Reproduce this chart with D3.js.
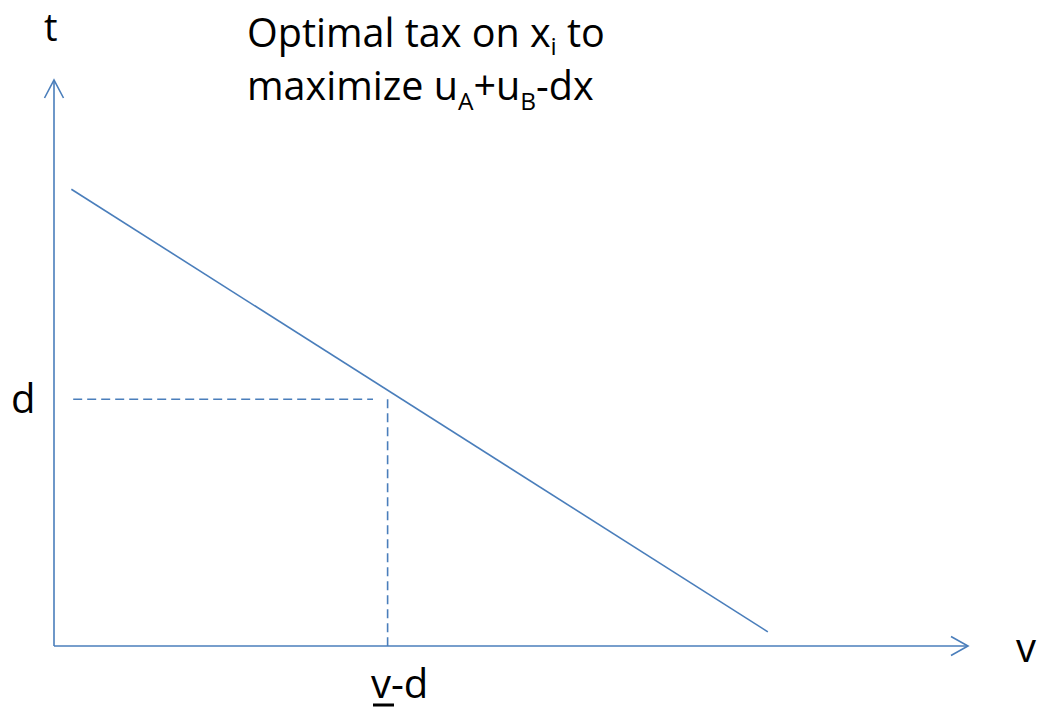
<!DOCTYPE html>
<html>
<head>
<meta charset="utf-8">
<script src="https://cdn.jsdelivr.net/npm/d3@7"></script>
<style>
  html, body { margin: 0; padding: 0; background: #fff; }
  svg { display: block; }
  text { font-family: "Open Sans", "Liberation Sans", sans-serif; fill: #000; }
</style>
</head>
<body>
<svg id="chart" width="1041" height="711"></svg>
<script>
// Tax schedule t(v): straight line in (v, t) units
const linePoints = [
  { v: 1.9, t: 80.7 },
  { v: 78.1, t: 2.5 }
];
// Reference level t = d and the matching valuation v-d
const dLevel = 43.6;
const dGuideFrom = [2.1, 34.9];   // horizontal guide span along v
const vdValue = 36.5;             // vertical guide position
const axisLabels = ["t", "v"];
const tickLabels = ["d", "v-d"];
const titleLines = ["Optimal tax on x", "maximize u"];

const blue = "#4a7ebb";
const svg = d3.select("#chart");

const x = d3.scaleLinear().domain([0, 100]).range([54, 968]);
const y = d3.scaleLinear().domain([0, 100]).range([646, 80]);

// Axes with open arrowheads
const ax = svg.append("g").attr("stroke", blue).attr("stroke-width", 1.6).attr("fill", "none");
ax.append("line").attr("x1", x(0)).attr("y1", y(0)).attr("x2", x(0)).attr("y2", y(100));
ax.append("line").attr("x1", x(0)).attr("y1", y(0)).attr("x2", x(100)).attr("y2", y(0));
ax.append("path").attr("d", `M${x(0) - 9.5},${y(100) + 18} L${x(0)},${y(100)} L${x(0) + 9.5},${y(100) + 18}`);
ax.append("path").attr("d", `M${x(100) - 17},${y(0) - 9.5} L${x(100)},${y(0)} L${x(100) - 17},${y(0) + 9.5}`);

// Dashed guides
const guides = svg.append("g").attr("stroke", blue).attr("stroke-width", 1.6)
  .attr("stroke-dasharray", "9,5").attr("fill", "none");
guides.append("line")
  .attr("x1", x(dGuideFrom[0])).attr("y1", y(dLevel))
  .attr("x2", x(dGuideFrom[1])).attr("y2", y(dLevel));
guides.append("line")
  .attr("x1", x(vdValue)).attr("y1", y(dLevel))
  .attr("x2", x(vdValue)).attr("y2", y(0));

// Tax line
svg.append("path")
  .datum(linePoints)
  .attr("fill", "none")
  .attr("stroke", blue)
  .attr("stroke-width", 1.6)
  .attr("d", d3.line().x(d => x(d.v)).y(d => y(d.t)));

// Axis labels
const lfs = 40;
svg.append("text").attr("x", 44).attr("y", 41).attr("font-size", 38).text(axisLabels[0]);
svg.append("text").attr("x", 1016).attr("y", 662).attr("font-size", lfs).text(axisLabels[1]);

// Tick-style labels
svg.append("text").attr("x", 11).attr("y", 413).attr("font-size", lfs).text(tickLabels[0]);
const vd = svg.append("text").attr("x", 371).attr("y", 698).attr("font-size", lfs);
vd.append("tspan").text(tickLabels[1].charAt(0));
vd.append("tspan").text(tickLabels[1].slice(1));
svg.append("rect").attr("x", 373).attr("y", 703.5).attr("width", 21).attr("height", 3).attr("fill", "#000");

// Title with subscripts
const fs = 39.5;
const t1 = svg.append("text").attr("x", 247).attr("y", 47).attr("font-size", fs);
t1.append("tspan").text(titleLines[0]);
t1.append("tspan").attr("font-size", fs * 0.62).attr("dy", 8).text("i");
t1.append("tspan").attr("dy", -8).text(" to");

const t2 = svg.append("text").attr("x", 247).attr("y", 100).attr("font-size", fs);
t2.append("tspan").text(titleLines[1]);
t2.append("tspan").attr("font-size", fs * 0.62).attr("dy", 10).text("A");
t2.append("tspan").attr("dy", -10).text("+u");
t2.append("tspan").attr("font-size", fs * 0.62).attr("dy", 10).text("B");
t2.append("tspan").attr("dy", -10).text("-dx");
</script>
</body>
</html>
